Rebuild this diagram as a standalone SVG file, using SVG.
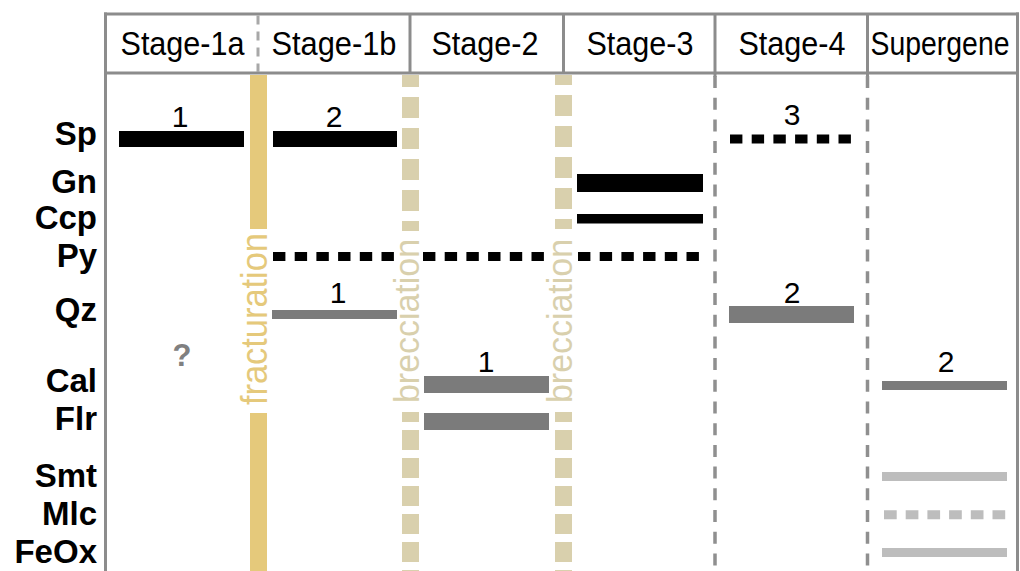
<svg xmlns="http://www.w3.org/2000/svg" width="1020" height="571" viewBox="0 0 1020 571">
  <defs>
    <style>
      .frame{stroke:#8c8c8c;stroke-width:3;fill:none}
      .vdash{stroke:#8f8f8f;stroke-width:3.5;stroke-dasharray:12 9.7;fill:none}
      .hdash{stroke:#a8a8a8;stroke-width:3;stroke-dasharray:9 7;fill:none}
      .hdr{font-family:"Liberation Sans",Arial,sans-serif;font-size:33px;fill:#000;text-anchor:middle}
      .row{font-family:"Liberation Sans",Arial,sans-serif;font-size:33px;font-weight:bold;fill:#000;text-anchor:end}
      .num{font-family:"Liberation Sans",Arial,sans-serif;font-size:30px;fill:#000;text-anchor:middle}
      .q{font-family:"Liberation Sans",Arial,sans-serif;font-size:31px;font-weight:bold;fill:#808080;text-anchor:middle}
      .blk{fill:#000}
      .mid{fill:#7b7b7b}
      .lite{fill:#bdbdbd}
      .dblk{stroke:#000;stroke-width:9;stroke-dasharray:12.4 9.3;fill:none}
      .dlite{stroke:#bdbdbd;stroke-width:9;stroke-dasharray:12.7 9;fill:none}
      .frac{stroke:#e5c97b;stroke-width:17;fill:none}
      .brec{stroke:#d9d0ad;stroke-width:17;fill:none}
      .fractxt{font-family:"Liberation Sans",Arial,sans-serif;font-size:36px;fill:#e5c97b}
      .brectxt{font-family:"Liberation Sans",Arial,sans-serif;font-size:35px;fill:#d9d0ad}
    </style>
  </defs>

  <rect x="0" y="0" width="1020" height="571" fill="#fff"/>

  <!-- event bands between stages -->
  <g id="fracturation">
    <line class="frac" x1="258.5" y1="75" x2="258.5" y2="229"/>
    <line class="frac" x1="258.5" y1="413" x2="258.5" y2="571"/>
    <text class="fractxt" transform="translate(267,405) rotate(-90)" textLength="172" lengthAdjust="spacingAndGlyphs">fracturation</text>
  </g>
  <g id="brecciation-1">
    <line class="brec" x1="410.5" y1="75" x2="410.5" y2="231" stroke-dasharray="21 10" stroke-dashoffset="9"/>
    <line class="brec" x1="410.5" y1="412" x2="410.5" y2="571" stroke-dasharray="20 8" stroke-dashoffset="10"/>
    <text class="brectxt" transform="translate(419,403) rotate(-90)" textLength="164" lengthAdjust="spacingAndGlyphs">brecciation</text>
  </g>
  <g id="brecciation-2">
    <line class="brec" x1="563.5" y1="75" x2="563.5" y2="229" stroke-dasharray="21 10" stroke-dashoffset="11"/>
    <line class="brec" x1="563.5" y1="412" x2="563.5" y2="571" stroke-dasharray="20 8" stroke-dashoffset="10"/>
    <text class="brectxt" transform="translate(572,403) rotate(-90)" textLength="164" lengthAdjust="spacingAndGlyphs">brecciation</text>
  </g>

  <!-- table frame and column dividers -->
  <g id="frame">
    <line class="frame" x1="104" y1="14" x2="1019" y2="14"/>
    <line class="frame" x1="104" y1="73" x2="1019" y2="73"/>
    <line class="frame" x1="105.5" y1="12.5" x2="105.5" y2="571"/>
    <line class="frame" x1="1017.5" y1="12.5" x2="1017.5" y2="571"/>
    <line class="frame" x1="410" y1="14" x2="410" y2="73"/>
    <line class="frame" x1="563.5" y1="14" x2="563.5" y2="73"/>
    <line class="frame" x1="715" y1="14" x2="715" y2="77"/>
    <line class="frame" x1="867.5" y1="14" x2="867.5" y2="77"/>
    <line class="hdash" x1="258" y1="15.5" x2="258" y2="72"/>
    <line class="vdash" x1="715" y1="76" x2="715" y2="571"/>
    <line class="vdash" x1="867.5" y1="76" x2="867.5" y2="571"/>
  </g>

  <!-- stage headers -->
  <g id="headers">
    <text class="hdr" x="182.5" y="55" textLength="124" lengthAdjust="spacingAndGlyphs">Stage-1a</text>
    <text class="hdr" x="334" y="55" textLength="125" lengthAdjust="spacingAndGlyphs">Stage-1b</text>
    <text class="hdr" x="485" y="55" textLength="107" lengthAdjust="spacingAndGlyphs">Stage-2</text>
    <text class="hdr" x="640" y="55" textLength="107" lengthAdjust="spacingAndGlyphs">Stage-3</text>
    <text class="hdr" x="792" y="55" textLength="107" lengthAdjust="spacingAndGlyphs">Stage-4</text>
    <text class="hdr" x="940" y="55" textLength="139" lengthAdjust="spacingAndGlyphs">Supergene</text>
  </g>

  <!-- mineral rows -->
  <g id="minerals">
    <text class="row" x="97" y="145">Sp</text>
    <text class="row" x="97" y="193">Gn</text>
    <text class="row" x="97" y="229">Ccp</text>
    <text class="row" x="97" y="267">Py</text>
    <text class="row" x="97" y="321">Qz</text>
    <text class="row" x="97" y="392">Cal</text>
    <text class="row" x="97" y="430">Flr</text>
    <text class="row" x="97" y="487">Smt</text>
    <text class="row" x="97" y="525">Mlc</text>
    <text class="row" x="97" y="563">FeOx</text>
  </g>

  <!-- occurrence bars -->
  <g id="stage-1a">
    <rect class="blk" x="119" y="131" width="125" height="16"/>
    <text class="num" x="180" y="127">1</text>
    <text class="q" x="182" y="366">?</text>
  </g>
  <g id="stage-1b">
    <rect class="blk" x="273" y="131" width="124" height="16"/>
    <text class="num" x="334" y="127">2</text>
    <line class="dblk" x1="273" y1="256.5" x2="394" y2="256.5"/>
    <rect class="mid" x="272" y="310" width="125" height="9"/>
    <text class="num" x="338" y="303">1</text>
  </g>
  <g id="stage-2">
    <line class="dblk" x1="423" y1="256.5" x2="544" y2="256.5"/>
    <rect class="mid" x="424" y="376" width="125" height="17"/>
    <text class="num" x="486" y="372">1</text>
    <rect class="mid" x="424" y="413" width="125" height="17"/>
  </g>
  <g id="stage-3">
    <rect class="blk" x="577" y="174" width="126" height="18"/>
    <rect class="blk" x="577" y="214" width="126" height="9.5"/>
    <line class="dblk" x1="578" y1="256.5" x2="699" y2="256.5"/>
  </g>
  <g id="stage-4">
    <line class="dblk" x1="730" y1="139" x2="852" y2="139" stroke-width="8.5"/>
    <text class="num" x="792" y="125">3</text>
    <rect class="mid" x="729" y="306" width="125" height="17"/>
    <text class="num" x="792" y="303">2</text>
  </g>
  <g id="supergene">
    <rect class="mid" x="882" y="381" width="125" height="9"/>
    <text class="num" x="946" y="372">2</text>
    <rect class="lite" x="882" y="472" width="125" height="9"/>
    <line class="dlite" x1="884" y1="514.7" x2="1006" y2="514.7"/>
    <rect class="lite" x="882" y="548" width="125" height="9"/>
  </g>
</svg>
